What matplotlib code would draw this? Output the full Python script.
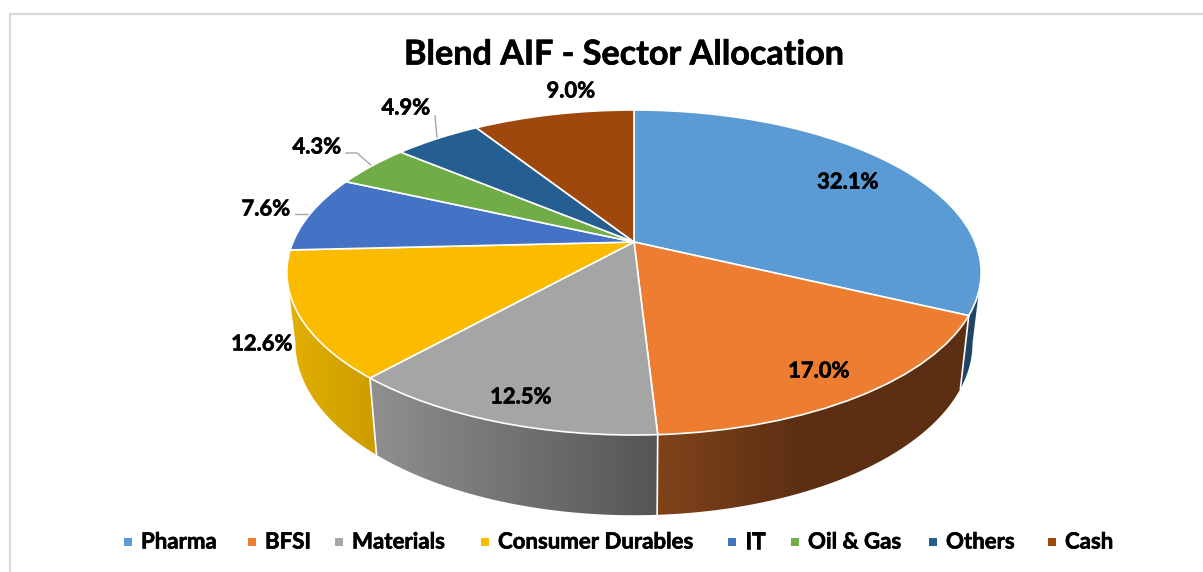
import numpy as np
import matplotlib
matplotlib.use("Agg")
import matplotlib.pyplot as plt
import matplotlib.patheffects as pe
from matplotlib.patches import Polygon
from matplotlib.transforms import Transform
from matplotlib.colors import to_rgb

sectors = ["Pharma", "BFSI", "Materials", "Consumer Durables", "IT", "Oil & Gas", "Others", "Cash"]
shares = [32.1, 17.0, 12.5, 12.6, 7.6, 4.3, 4.9, 9.0]
share_labels = ["32.1%", "17.0%", "12.5%", "12.6%", "7.6%", "4.3%", "4.9%", "9.0%"]
colors = ["#5B9BD5", "#ED7D31", "#A5A5A5", "#FBBC00", "#4472C4", "#70AD47", "#255E91", "#9E480E"]
title = "Blend AIF - Sector Allocation"

plt.rcParams["font.family"] = ["Lato", "DejaVu Sans"]
W, H = 1203, 572
fig = plt.figure(figsize=(W / 100, H / 100), dpi=100, facecolor="white")
ax = fig.add_axes([0, 0, 1, 1])

# perspective of the tilted disc, in canvas pixels
CX, CY, RX, RY, K = 634.0, 242.0, 341.0, 156.8, 0.1877
DX, DY, DEPTH_Y = 0.975, 1.058, 311.0
bold = [pe.withStroke(linewidth=0.45, foreground="black")]


class Tilt(Transform):
    input_dims = output_dims = 2
    is_separable = False
    has_inverse = False

    def transform_non_affine(self, values):
        v = np.asarray(values, float)
        d = 1 + K * v[:, 1]
        return np.column_stack([CX + RX * v[:, 0] / d, CY - RY * v[:, 1] / d])


tilt = Tilt()


def lower(p):
    return np.column_stack([CX + DX * (p[:, 0] - CX), DEPTH_Y + DY * (p[:, 1] - CY)])


# side-wall shading of the slices that face the viewer: colours at two x positions
side_shade = {
    0: ("#1F4464", "#1F4464", 900, 1000),
    1: ("#7F431A", "#5C2F13", 660, 800),
    2: ("#8E8E8E", "#555555", 378, 657),
    3: ("#E3AF00", "#CC9C00", 288, 378),
}

fractions = np.array(shares) / np.sum(shares)
edges = np.concatenate([[0], np.cumsum(fractions)]) * 2 * np.pi

# pie gives the top face; the Tilt transform lays it down
wedges, _ = ax.pie(shares, colors=colors, startangle=90, counterclock=False,
                   wedgeprops=dict(edgecolor="white", linewidth=1.2))
for w in wedges:
    w.set_transform(tilt + ax.transData)
    w.set_clip_on(False)
    w.set_zorder(5)

# the wall is visible between the two points where the rim is widest
front_start = np.arccos(-K)
front_end = 2 * np.pi - front_start

xgrid = np.arange(W + 1)
for i, (c0, c1, x0, x1) in side_shade.items():
    th = np.linspace(max(edges[i], front_start), min(edges[i + 1], front_end), 120)
    top = tilt.transform_non_affine(np.column_stack([np.sin(th), np.cos(th)]))
    outline = np.vstack([top, lower(top)[::-1]])
    t = np.clip((xgrid - x0) / (x1 - x0), 0, 1)[:, None]
    row = np.array(to_rgb(c0)) + (np.array(to_rgb(c1)) - np.array(to_rgb(c0))) * t
    poly = Polygon(outline, closed=True, transform=ax.transData)
    im = ax.imshow(row[None, :, :], extent=(0, W + 1, H, 0), aspect="auto",
                   interpolation="nearest", zorder=2)
    im.set_clip_path(poly)

# white seams on the visible wall
for i in [1, 2, 3]:
    p = tilt.transform_non_affine(np.array([[np.sin(edges[i]), np.cos(edges[i])]]))
    q = lower(p)
    ax.plot([p[0, 0], q[0, 0]], [p[0, 1], q[0, 1]], color="white", lw=1.2, zorder=3)

# frame
ax.plot([10, 10, W], [H, 14, 14], color="#D9D9D9", lw=1.6, zorder=1, solid_joinstyle="miter")

# leader lines
for xs, ys in [([295, 310], [214, 214]),
               ([346, 357, 372], [153, 153, 166]),
               ([435, 437], [116, 138])]:
    ax.plot(xs, ys, color="#A6A6A6", lw=1.0, zorder=4)

# data labels
label_xy = [(848, 182), (819, 371), (521, 397), (262, 344), (266, 209), (317, 147), (406, 108), (571, 91)]
for s, (x, y) in zip(share_labels, label_xy):
    ax.text(x, y, s, ha="center", va="center", fontsize=15.8, fontweight="bold",
            color="black", zorder=6, path_effects=bold)

ax.text(624, 54.5, title, ha="center", va="center", fontsize=24.6, fontweight="bold",
        color="black", zorder=6, path_effects=bold)

# legend
marker_x = [128, 252, 339, 485, 732, 795, 933, 1052]
for name, col, mx in zip(sectors, colors, marker_x):
    ax.scatter([mx], [542], marker="s", s=30, color=col, linewidths=0, zorder=6)
    ax.text(mx + 13, 542, name, ha="left", va="center", fontsize=16, fontweight="bold",
            color="black", zorder=6, path_effects=bold)

ax.set_aspect("auto")
ax.set_xlim(0, W)
ax.set_ylim(H, 0)
ax.axis("off")
fig.savefig("out.png", dpi=100, facecolor="white")
